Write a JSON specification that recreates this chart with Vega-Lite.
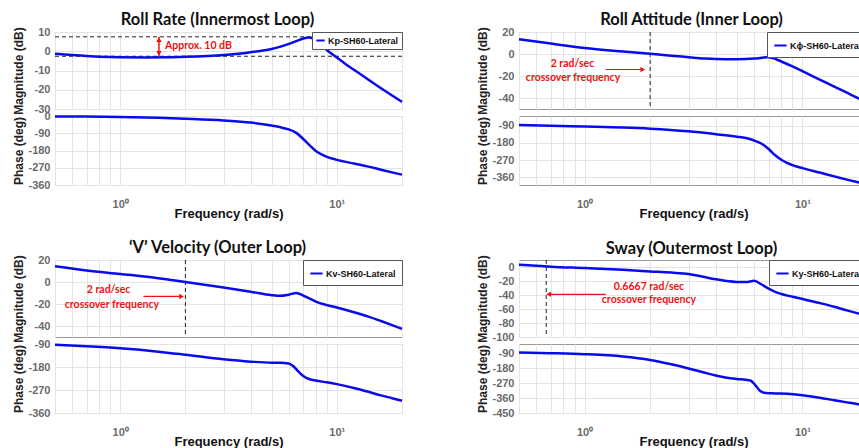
{
  "$schema": "https://vega.github.io/schema/vega-lite/v6.json",
  "background": "white",
  "padding": {"left": 11, "top": 11, "right": 0, "bottom": 0},
  "config": {
    "view": {"stroke": "#9a9a9a", "strokeWidth": 1},
    "axis": {"labelFont": "Liberation Sans", "labelFontWeight": "bold", "labelColor": "#6a6a6a", "labelFontSize": 11, "titleFont": "Liberation Sans", "titleFontWeight": "bold", "titleColor": "#222", "titleFontSize": 12, "gridColor": "#e4e4e4", "domain": false, "ticks": false, "labelPadding": 5, "labelOverlap": false},
    "title": {"font": "Lato", "fontSize": 16.5, "fontWeight": "bold", "color": "#111", "offset": -2.5},
    "legend": {"orient": "top-right", "offset": 0, "padding": 6, "strokeColor": "#555", "fillColor": "white", "symbolType": "stroke", "symbolSize": 150, "symbolStrokeWidth": 2, "labelFont": "Liberation Sans", "labelFontSize": 9, "labelFontWeight": "bold", "labelColor": "#111", "labelOffset": 2, "title": null},
    "text": {"font": "Lato", "fontSize": 10.5, "fontWeight": "bold", "color": "#ee1111", "baseline": "middle"}
  },
  "datasets": {
    "p1mag": [{"f":0.5,"db":-1.3},{"f":0.6,"db":-2.0},{"f":0.7,"db":-2.5},{"f":0.8,"db":-2.8},{"f":1.0,"db":-3.1},{"f":1.3,"db":-3.2},{"f":1.7,"db":-3.1},{"f":2.0,"db":-2.9},{"f":2.5,"db":-2.5},{"f":3.0,"db":-2.0},{"f":3.5,"db":-1.3},{"f":4.0,"db":-0.5},{"f":4.5,"db":0.3},{"f":5.0,"db":1.2},{"f":5.5,"db":2.4},{"f":6.0,"db":3.8},{"f":6.5,"db":5.3},{"f":7.0,"db":6.6},{"f":7.4,"db":7.2},{"f":7.8,"db":6.6},{"f":8.2,"db":4.8},{"f":8.6,"db":2.6},{"f":9.0,"db":0.6},{"f":9.5,"db":-1.4},{"f":10,"db":-3.3},{"f":11,"db":-6.7},{"f":12,"db":-9.6},{"f":14,"db":-14.8},{"f":16,"db":-19.2},{"f":18,"db":-23},{"f":20,"db":-26.3}],
    "p1ph": [{"f":0.5,"deg":-2},{"f":0.7,"deg":-3},{"f":1.0,"deg":-5},{"f":1.5,"deg":-9},{"f":2.0,"deg":-14},{"f":3.0,"deg":-23},{"f":4.0,"deg":-34},{"f":5.0,"deg":-50},{"f":5.5,"deg":-59},{"f":6.0,"deg":-70},{"f":6.5,"deg":-88},{"f":7.0,"deg":-120},{"f":7.5,"deg":-153},{"f":8.0,"deg":-182},{"f":8.5,"deg":-200},{"f":9.0,"deg":-213},{"f":9.5,"deg":-222},{"f":10,"deg":-229},{"f":12,"deg":-248},{"f":14,"deg":-264},{"f":16,"deg":-280},{"f":18,"deg":-294},{"f":20,"deg":-306}],
    "p2mag": [{"f":0.5,"db":13.5},{"f":0.7,"db":9.5},{"f":1.0,"db":5.5},{"f":1.5,"db":2.3},{"f":2.0,"db":0.2},{"f":2.5,"db":-1.5},{"f":3.0,"db":-3},{"f":3.5,"db":-4},{"f":4.0,"db":-4.6},{"f":5.0,"db":-4.8},{"f":6.0,"db":-4.2},{"f":6.5,"db":-3.5},{"f":6.9,"db":-2.9},{"f":7.3,"db":-3.6},{"f":7.6,"db":-5},{"f":8.0,"db":-6.8},{"f":9.0,"db":-11.3},{"f":10,"db":-15.6},{"f":12,"db":-23.2},{"f":14,"db":-29.6},{"f":16,"db":-35.2},{"f":18,"db":-40.2},{"f":20,"db":-44.6}],
    "p2ph": [{"f":0.5,"deg":-87},{"f":0.7,"deg":-91},{"f":1.0,"deg":-95},{"f":1.5,"deg":-100},{"f":2.0,"deg":-106},{"f":3.0,"deg":-120},{"f":4.0,"deg":-135},{"f":5.0,"deg":-148},{"f":5.5,"deg":-155},{"f":6.0,"deg":-168},{"f":6.5,"deg":-185},{"f":7.0,"deg":-212},{"f":7.5,"deg":-245},{"f":8.0,"deg":-268},{"f":8.5,"deg":-284},{"f":9.0,"deg":-296},{"f":10,"deg":-312},{"f":12,"deg":-335},{"f":14,"deg":-355},{"f":16,"deg":-372},{"f":18,"deg":-386},{"f":20,"deg":-398}],
    "p3mag": [{"f":0.5,"db":14.3},{"f":0.7,"db":10.5},{"f":1.0,"db":7.3},{"f":1.5,"db":3.5},{"f":2.0,"db":0},{"f":3.0,"db":-5},{"f":4.0,"db":-8.8},{"f":5.0,"db":-12},{"f":5.5,"db":-12.6},{"f":6.0,"db":-11.5},{"f":6.5,"db":-10},{"f":7.0,"db":-12.3},{"f":7.5,"db":-15.2},{"f":8.0,"db":-17.8},{"f":9.0,"db":-21},{"f":10,"db":-23.2},{"f":12,"db":-27.5},{"f":14,"db":-31.5},{"f":16,"db":-35.5},{"f":18,"db":-39.2},{"f":20,"db":-42.6}],
    "p3ph": [{"f":0.5,"deg":-93},{"f":0.7,"deg":-99},{"f":1.0,"deg":-107},{"f":1.5,"deg":-120},{"f":2.0,"deg":-132},{"f":3.0,"deg":-150},{"f":4.0,"deg":-159},{"f":5.0,"deg":-163},{"f":5.5,"deg":-163},{"f":6.0,"deg":-166},{"f":6.3,"deg":-177},{"f":6.6,"deg":-195},{"f":7.0,"deg":-215},{"f":7.5,"deg":-228},{"f":8.0,"deg":-233},{"f":9.0,"deg":-240},{"f":10,"deg":-247},{"f":12,"deg":-262},{"f":14,"deg":-277},{"f":16,"deg":-291},{"f":18,"deg":-302},{"f":20,"deg":-312}],
    "p4mag": [{"f":0.5,"db":3.2},{"f":0.6,"db":1.8},{"f":0.7,"db":0.5},{"f":1.0,"db":-1.5},{"f":1.5,"db":-4},{"f":2.0,"db":-6.3},{"f":2.5,"db":-8},{"f":3.0,"db":-10},{"f":3.5,"db":-14},{"f":4.0,"db":-17.5},{"f":4.5,"db":-20},{"f":5.0,"db":-21.3},{"f":5.5,"db":-21.5},{"f":6.0,"db":-19.8},{"f":6.5,"db":-25},{"f":7.0,"db":-31},{"f":7.5,"db":-35.5},{"f":8.0,"db":-38.5},{"f":9.0,"db":-42.5},{"f":10,"db":-45.7},{"f":12,"db":-51.5},{"f":14,"db":-56.8},{"f":16,"db":-62},{"f":18,"db":-66.3},{"f":20,"db":-70}],
    "p4ph": [{"f":0.5,"deg":-86},{"f":0.7,"deg":-90},{"f":1.0,"deg":-96},{"f":1.5,"deg":-110},{"f":2.0,"deg":-131},{"f":2.5,"deg":-157},{"f":3.0,"deg":-182},{"f":3.5,"deg":-205},{"f":4.0,"deg":-225},{"f":4.5,"deg":-238},{"f":5.0,"deg":-245},{"f":5.5,"deg":-250},{"f":5.8,"deg":-256},{"f":6.1,"deg":-285},{"f":6.4,"deg":-318},{"f":6.8,"deg":-330},{"f":7.5,"deg":-332},{"f":8.5,"deg":-334},{"f":10,"deg":-343},{"f":12,"deg":-358},{"f":14,"deg":-373},{"f":16,"deg":-386},{"f":18,"deg":-397},{"f":20,"deg":-405}]
  },
  "spacing": 18,
  "resolve": {"scale": {"color": "independent", "x": "independent", "y": "independent"}, "legend": {"color": "independent"}},
  "vconcat": [
    {
      "hconcat": [
        {
          "vconcat": [
            {
              "width": 347, "height": 77,
              "title": {"text": "Roll Rate (Innermost Loop)", "dx": -11},
              "layer": [
                {"data": {"values": [{"db": 7.5}, {"db": -2.6}]}, "mark": {"type": "rule", "color": "#222", "strokeDash": [4, 3], "strokeWidth": 1},
                 "encoding": {"y": {"field": "db", "type": "quantitative", "scale": {"domain": [-30, 10], "nice": false}, "axis": {"values": [10, 0, -10, -20, -30], "labelExpr": "datum.value + ''", "title": "Magnitude (dB)", "titleX": -37, "titleBaseline": "middle"}}}},
                {"data": {"name": "p1mag"}, "mark": {"type": "line", "strokeWidth": 2.5, "interpolate": "monotone"},
                 "encoding": {
                   "x": {"field": "f", "type": "quantitative", "scale": {"type": "log", "domain": [0.5, 20], "nice": false}, "axis": {"values": [0.5,0.6,0.7,0.8,0.9,1,2,3,4,5,6,7,8,9,10,20], "labels": false, "title": null}},
                   "y": {"field": "db", "type": "quantitative", "scale": {"domain": [-30, 10], "nice": false}, "axis": {"values": [10, 0, -10, -20, -30], "labelExpr": "datum.value + ''", "title": "Magnitude (dB)", "titleX": -37, "titleBaseline": "middle"}},
                   "color": {"datum": "Kp-SH60-Lateral", "type": "nominal", "scale": {"range": ["#0a0aee"]}, "legend": {"orient": "top-right", "padding": 3, "symbolSize": 70}}
                 }},
                {"data": {"values": [{"f": 1.51, "db": 7.5, "db2": -2.6}]}, "mark": {"type": "rule", "color": "#ee1111", "strokeWidth": 1.5},
                 "encoding": {"x": {"field": "f", "type": "quantitative", "scale": {"type": "log", "domain": [0.5, 20], "nice": false}, "axis": {"values": [0.5,0.6,0.7,0.8,0.9,1,2,3,4,5,6,7,8,9,10,20], "labels": false, "title": null}},
                   "y": {"field": "db", "type": "quantitative", "scale": {"domain": [-30, 10], "nice": false}, "axis": {"values": [10, 0, -10, -20, -30], "labelExpr": "datum.value + ''", "title": "Magnitude (dB)", "titleX": -37, "titleBaseline": "middle"}}, "y2": {"field": "db2"}}},
                {"data": {"values": [{"f": 1.51, "db": 6.0, "s": "up"}, {"f": 1.51, "db": -1.1, "s": "down"}]}, "mark": {"type": "point", "filled": true, "color": "#ee1111", "size": 30, "opacity": 1},
                 "encoding": {"x": {"field": "f", "type": "quantitative", "scale": {"type": "log", "domain": [0.5, 20], "nice": false}, "axis": {"values": [0.5,0.6,0.7,0.8,0.9,1,2,3,4,5,6,7,8,9,10,20], "labels": false, "title": null}},
                   "y": {"field": "db", "type": "quantitative", "scale": {"domain": [-30, 10], "nice": false}, "axis": {"values": [10, 0, -10, -20, -30], "labelExpr": "datum.value + ''", "title": "Magnitude (dB)", "titleX": -37, "titleBaseline": "middle"}},
                   "shape": {"field": "s", "type": "nominal", "scale": {"domain": ["up", "down"], "range": ["triangle-up", "triangle-down"]}, "legend": null}}},
                {"data": {"values": [{"f": 1.61, "db": 2.8, "label": "Approx. 10 dB"}]}, "mark": {"type": "text", "align": "left"},
                 "encoding": {"x": {"field": "f", "type": "quantitative", "scale": {"type": "log", "domain": [0.5, 20], "nice": false}, "axis": {"values": [0.5,0.6,0.7,0.8,0.9,1,2,3,4,5,6,7,8,9,10,20], "labels": false, "title": null}},
                   "y": {"field": "db", "type": "quantitative", "scale": {"domain": [-30, 10], "nice": false}, "axis": {"values": [10, 0, -10, -20, -30], "labelExpr": "datum.value + ''", "title": "Magnitude (dB)", "titleX": -37, "titleBaseline": "middle"}}, "text": {"field": "label"}}}
              ]
            },
            {
              "width": 347, "height": 69,
              "data": {"name": "p1ph"},
              "mark": {"type": "line", "strokeWidth": 2.5, "interpolate": "monotone", "color": "#0a0aee"},
              "encoding": {
                "x": {"field": "f", "type": "quantitative", "scale": {"type": "log", "domain": [0.5, 20], "nice": false}, "axis": {"values": [0.5,0.6,0.7,0.8,0.9,1,2,3,4,5,6,7,8,9,10,20], "labelExpr": "datum.value == 1 ? '10⁰' : datum.value == 10 ? '10¹' : ''", "labelFlush": false, "labelPadding": 13, "title": "Frequency  (rad/s)", "titleFontSize": 13, "titleColor": "#111", "titlePadding": -2}},
                "y": {"field": "deg", "type": "quantitative", "scale": {"domain": [-360, 0], "nice": false}, "axis": {"values": [0, -90, -180, -270, -360], "labelExpr": "datum.value + ''", "title": "Phase (deg)", "titleX": -37, "titleBaseline": "middle"}}
              }
            }
          ],
          "spacing": 7, "bounds": "flush",
          "resolve": {"scale": {"color": "independent", "x": "independent", "y": "independent"}, "legend": {"color": "independent"}}
        },
        {
          "vconcat": [
            {
              "width": 349, "height": 77,
              "title": {"text": "Roll Attitude (Inner Loop)", "dx": -2},
              "layer": [
                {"data": {"values": [{"f": 2}]}, "mark": {"type": "rule", "color": "#222", "strokeDash": [4, 3], "strokeWidth": 1},
                 "encoding": {"x": {"field": "f", "type": "quantitative", "scale": {"type": "log", "domain": [0.5, 20], "nice": false}, "axis": {"values": [0.5,0.6,0.7,0.8,0.9,1,2,3,4,5,6,7,8,9,10,20], "labels": false, "title": null}}}},
                {"data": {"name": "p2mag"}, "mark": {"type": "line", "strokeWidth": 2.5, "interpolate": "monotone"},
                 "encoding": {
                   "x": {"field": "f", "type": "quantitative", "scale": {"type": "log", "domain": [0.5, 20], "nice": false}, "axis": {"values": [0.5,0.6,0.7,0.8,0.9,1,2,3,4,5,6,7,8,9,10,20], "labels": false, "title": null}},
                   "y": {"field": "db", "type": "quantitative", "scale": {"domain": [-50, 20], "nice": false}, "axis": {"values": [20, 0, -20, -40], "labelExpr": "datum.value + ''", "title": "Magnitude (dB)", "titleX": -37, "titleBaseline": "middle"}},
                   "color": {"datum": "Kϕ-SH60-Lateral", "type": "nominal", "scale": {"range": ["#0a0aee"]}, "legend": {"orient": "top-right"}}
                 }},
                {"data": {"values": [{"f": 1.25, "f2": 1.86, "db": -14.1}]}, "mark": {"type": "rule", "color": "#ee1111", "strokeWidth": 1.2},
                 "encoding": {"x": {"field": "f", "type": "quantitative", "scale": {"type": "log", "domain": [0.5, 20], "nice": false}, "axis": {"values": [0.5,0.6,0.7,0.8,0.9,1,2,3,4,5,6,7,8,9,10,20], "labels": false, "title": null}}, "x2": {"field": "f2"},
                   "y": {"field": "db", "type": "quantitative", "scale": {"domain": [-50, 20], "nice": false}, "axis": {"values": [20, 0, -20, -40], "labelExpr": "datum.value + ''", "title": "Magnitude (dB)", "titleX": -37, "titleBaseline": "middle"}}}},
                {"data": {"values": [{"f": 1.85, "db": -14.1}]}, "mark": {"type": "point", "shape": "triangle-right", "filled": true, "color": "#ee1111", "size": 30, "opacity": 1},
                 "encoding": {"x": {"field": "f", "type": "quantitative", "scale": {"type": "log", "domain": [0.5, 20], "nice": false}, "axis": {"values": [0.5,0.6,0.7,0.8,0.9,1,2,3,4,5,6,7,8,9,10,20], "labels": false, "title": null}},
                   "y": {"field": "db", "type": "quantitative", "scale": {"domain": [-50, 20], "nice": false}, "axis": {"values": [20, 0, -20, -40], "labelExpr": "datum.value + ''", "title": "Magnitude (dB)", "titleX": -37, "titleBaseline": "middle"}}}},
                {"data": {"values": [{"f": 0.88, "db": -8.7, "label": "2 rad/sec"}, {"f": 0.885, "db": -21.6, "label": "crossover frequency"}]}, "mark": {"type": "text", "align": "center"},
                 "encoding": {"x": {"field": "f", "type": "quantitative", "scale": {"type": "log", "domain": [0.5, 20], "nice": false}, "axis": {"values": [0.5,0.6,0.7,0.8,0.9,1,2,3,4,5,6,7,8,9,10,20], "labels": false, "title": null}},
                   "y": {"field": "db", "type": "quantitative", "scale": {"domain": [-50, 20], "nice": false}, "axis": {"values": [20, 0, -20, -40], "labelExpr": "datum.value + ''", "title": "Magnitude (dB)", "titleX": -37, "titleBaseline": "middle"}}, "text": {"field": "label"}}}
              ]
            },
            {
              "width": 349, "height": 69,
              "data": {"name": "p2ph"},
              "mark": {"type": "line", "strokeWidth": 2.5, "interpolate": "monotone", "color": "#0a0aee"},
              "encoding": {
                "x": {"field": "f", "type": "quantitative", "scale": {"type": "log", "domain": [0.5, 20], "nice": false}, "axis": {"values": [0.5,0.6,0.7,0.8,0.9,1,2,3,4,5,6,7,8,9,10,20], "labelExpr": "datum.value == 1 ? '10⁰' : datum.value == 10 ? '10¹' : ''", "labelFlush": false, "labelPadding": 13, "title": "Frequency  (rad/s)", "titleFontSize": 13, "titleColor": "#111", "titlePadding": -2}},
                "y": {"field": "deg", "type": "quantitative", "scale": {"domain": [-400, -40], "nice": false}, "axis": {"values": [-90, -180, -270, -360], "labelExpr": "datum.value + ''", "title": "Phase (deg)", "titleX": -37, "titleBaseline": "middle"}}
              }
            }
          ],
          "spacing": 7, "bounds": "flush",
          "resolve": {"scale": {"color": "independent", "x": "independent", "y": "independent"}, "legend": {"color": "independent"}}
        }
      ],
      "spacing": 67,
      "resolve": {"scale": {"color": "independent", "x": "independent", "y": "independent"}, "legend": {"color": "independent"}}
    },
    {
      "hconcat": [
        {
          "vconcat": [
            {
              "width": 347, "height": 77,
              "title": {"text": "‘V’ Velocity (Outer Loop)", "dx": -11},
              "layer": [
                {"data": {"values": [{"f": 2}]}, "mark": {"type": "rule", "color": "#222", "strokeDash": [4, 3], "strokeWidth": 1},
                 "encoding": {"x": {"field": "f", "type": "quantitative", "scale": {"type": "log", "domain": [0.5, 20], "nice": false}, "axis": {"values": [0.5,0.6,0.7,0.8,0.9,1,2,3,4,5,6,7,8,9,10,20], "labels": false, "title": null}}}},
                {"data": {"name": "p3mag"}, "mark": {"type": "line", "strokeWidth": 2.5, "interpolate": "monotone"},
                 "encoding": {
                   "x": {"field": "f", "type": "quantitative", "scale": {"type": "log", "domain": [0.5, 20], "nice": false}, "axis": {"values": [0.5,0.6,0.7,0.8,0.9,1,2,3,4,5,6,7,8,9,10,20], "labels": false, "title": null}},
                   "y": {"field": "db", "type": "quantitative", "scale": {"domain": [-50, 20], "nice": false}, "axis": {"values": [20, 0, -20, -40], "labelExpr": "datum.value + ''", "title": "Magnitude (dB)", "titleX": -37, "titleBaseline": "middle"}},
                   "color": {"datum": "Kv-SH60-Lateral", "type": "nominal", "scale": {"range": ["#0a0aee"]}, "legend": {"orient": "top-right"}}
                 }},
                {"data": {"values": [{"f": 1.28, "f2": 1.93, "db": -13.1}]}, "mark": {"type": "rule", "color": "#ee1111", "strokeWidth": 1.2},
                 "encoding": {"x": {"field": "f", "type": "quantitative", "scale": {"type": "log", "domain": [0.5, 20], "nice": false}, "axis": {"values": [0.5,0.6,0.7,0.8,0.9,1,2,3,4,5,6,7,8,9,10,20], "labels": false, "title": null}}, "x2": {"field": "f2"},
                   "y": {"field": "db", "type": "quantitative", "scale": {"domain": [-50, 20], "nice": false}, "axis": {"values": [20, 0, -20, -40], "labelExpr": "datum.value + ''", "title": "Magnitude (dB)", "titleX": -37, "titleBaseline": "middle"}}}},
                {"data": {"values": [{"f": 1.92, "db": -13.1}]}, "mark": {"type": "point", "shape": "triangle-right", "filled": true, "color": "#ee1111", "size": 30, "opacity": 1},
                 "encoding": {"x": {"field": "f", "type": "quantitative", "scale": {"type": "log", "domain": [0.5, 20], "nice": false}, "axis": {"values": [0.5,0.6,0.7,0.8,0.9,1,2,3,4,5,6,7,8,9,10,20], "labels": false, "title": null}},
                   "y": {"field": "db", "type": "quantitative", "scale": {"domain": [-50, 20], "nice": false}, "axis": {"values": [20, 0, -20, -40], "labelExpr": "datum.value + ''", "title": "Magnitude (dB)", "titleX": -37, "titleBaseline": "middle"}}}},
                {"data": {"values": [{"f": 0.884, "db": -7.7, "label": "2 rad/sec"}, {"f": 0.916, "db": -20.7, "label": "crossover frequency"}]}, "mark": {"type": "text", "align": "center"},
                 "encoding": {"x": {"field": "f", "type": "quantitative", "scale": {"type": "log", "domain": [0.5, 20], "nice": false}, "axis": {"values": [0.5,0.6,0.7,0.8,0.9,1,2,3,4,5,6,7,8,9,10,20], "labels": false, "title": null}},
                   "y": {"field": "db", "type": "quantitative", "scale": {"domain": [-50, 20], "nice": false}, "axis": {"values": [20, 0, -20, -40], "labelExpr": "datum.value + ''", "title": "Magnitude (dB)", "titleX": -37, "titleBaseline": "middle"}}, "text": {"field": "label"}}}
              ]
            },
            {
              "width": 347, "height": 69,
              "data": {"name": "p3ph"},
              "mark": {"type": "line", "strokeWidth": 2.5, "interpolate": "monotone", "color": "#0a0aee"},
              "encoding": {
                "x": {"field": "f", "type": "quantitative", "scale": {"type": "log", "domain": [0.5, 20], "nice": false}, "axis": {"values": [0.5,0.6,0.7,0.8,0.9,1,2,3,4,5,6,7,8,9,10,20], "labelExpr": "datum.value == 1 ? '10⁰' : datum.value == 10 ? '10¹' : ''", "labelFlush": false, "labelPadding": 13, "title": "Frequency  (rad/s)", "titleFontSize": 13, "titleColor": "#111", "titlePadding": -2}},
                "y": {"field": "deg", "type": "quantitative", "scale": {"domain": [-360, -90], "nice": false}, "axis": {"values": [-90, -180, -270, -360], "labelExpr": "datum.value + ''", "title": "Phase (deg)", "titleX": -37, "titleBaseline": "middle"}}
              }
            }
          ],
          "spacing": 7, "bounds": "flush",
          "resolve": {"scale": {"color": "independent", "x": "independent", "y": "independent"}, "legend": {"color": "independent"}}
        },
        {
          "vconcat": [
            {
              "width": 349, "height": 77,
              "title": {"text": "Sway (Outermost Loop)", "dx": -2},
              "layer": [
                {"data": {"values": [{"f": 0.6667}]}, "mark": {"type": "rule", "color": "#222", "strokeDash": [4, 3], "strokeWidth": 1},
                 "encoding": {"x": {"field": "f", "type": "quantitative", "scale": {"type": "log", "domain": [0.5, 20], "nice": false}, "axis": {"values": [0.5,0.6,0.7,0.8,0.9,1,2,3,4,5,6,7,8,9,10,20], "labels": false, "title": null}}}},
                {"data": {"name": "p4mag"}, "mark": {"type": "line", "strokeWidth": 2.5, "interpolate": "monotone"},
                 "encoding": {
                   "x": {"field": "f", "type": "quantitative", "scale": {"type": "log", "domain": [0.5, 20], "nice": false}, "axis": {"values": [0.5,0.6,0.7,0.8,0.9,1,2,3,4,5,6,7,8,9,10,20], "labels": false, "title": null}},
                   "y": {"field": "db", "type": "quantitative", "scale": {"domain": [-100, 10], "nice": false}, "axis": {"values": [0, -20, -40, -60, -80, -100], "labelExpr": "datum.value + ''", "title": "Magnitude (dB)", "titleX": -37, "titleBaseline": "middle"}},
                   "color": {"datum": "Ky-SH60-Lateral", "type": "nominal", "scale": {"range": ["#0a0aee"]}, "legend": {"orient": "top-right"}}
                 }},
                {"data": {"values": [{"f": 0.69, "f2": 1.25, "db": -39}]}, "mark": {"type": "rule", "color": "#ee1111", "strokeWidth": 1.2},
                 "encoding": {"x": {"field": "f", "type": "quantitative", "scale": {"type": "log", "domain": [0.5, 20], "nice": false}, "axis": {"values": [0.5,0.6,0.7,0.8,0.9,1,2,3,4,5,6,7,8,9,10,20], "labels": false, "title": null}}, "x2": {"field": "f2"},
                   "y": {"field": "db", "type": "quantitative", "scale": {"domain": [-100, 10], "nice": false}, "axis": {"values": [0, -20, -40, -60, -80, -100], "labelExpr": "datum.value + ''", "title": "Magnitude (dB)", "titleX": -37, "titleBaseline": "middle"}}}},
                {"data": {"values": [{"f": 0.685, "db": -39}]}, "mark": {"type": "point", "shape": "triangle-left", "filled": true, "color": "#ee1111", "size": 30, "opacity": 1},
                 "encoding": {"x": {"field": "f", "type": "quantitative", "scale": {"type": "log", "domain": [0.5, 20], "nice": false}, "axis": {"values": [0.5,0.6,0.7,0.8,0.9,1,2,3,4,5,6,7,8,9,10,20], "labels": false, "title": null}},
                   "y": {"field": "db", "type": "quantitative", "scale": {"domain": [-100, 10], "nice": false}, "axis": {"values": [0, -20, -40, -60, -80, -100], "labelExpr": "datum.value + ''", "title": "Magnitude (dB)", "titleX": -37, "titleBaseline": "middle"}}}},
                {"data": {"values": [{"f": 1.975, "db": -28, "label": "0.6667 rad/sec"}, {"f": 1.975, "db": -47, "label": "crossover frequency"}]}, "mark": {"type": "text", "align": "center"},
                 "encoding": {"x": {"field": "f", "type": "quantitative", "scale": {"type": "log", "domain": [0.5, 20], "nice": false}, "axis": {"values": [0.5,0.6,0.7,0.8,0.9,1,2,3,4,5,6,7,8,9,10,20], "labels": false, "title": null}},
                   "y": {"field": "db", "type": "quantitative", "scale": {"domain": [-100, 10], "nice": false}, "axis": {"values": [0, -20, -40, -60, -80, -100], "labelExpr": "datum.value + ''", "title": "Magnitude (dB)", "titleX": -37, "titleBaseline": "middle"}}, "text": {"field": "label"}}}
              ]
            },
            {
              "width": 349, "height": 69,
              "data": {"name": "p4ph"},
              "mark": {"type": "line", "strokeWidth": 2.5, "interpolate": "monotone", "color": "#0a0aee"},
              "encoding": {
                "x": {"field": "f", "type": "quantitative", "scale": {"type": "log", "domain": [0.5, 20], "nice": false}, "axis": {"values": [0.5,0.6,0.7,0.8,0.9,1,2,3,4,5,6,7,8,9,10,20], "labelExpr": "datum.value == 1 ? '10⁰' : datum.value == 10 ? '10¹' : ''", "labelFlush": false, "labelPadding": 13, "title": "Frequency  (rad/s)", "titleFontSize": 13, "titleColor": "#111", "titlePadding": -2}},
                "y": {"field": "deg", "type": "quantitative", "scale": {"domain": [-450, -35], "nice": false}, "axis": {"values": [-90, -180, -270, -360, -450], "labelExpr": "datum.value + ''", "title": "Phase (deg)", "titleX": -37, "titleBaseline": "middle"}}
              }
            }
          ],
          "spacing": 7, "bounds": "flush",
          "resolve": {"scale": {"color": "independent", "x": "independent", "y": "independent"}, "legend": {"color": "independent"}}
        }
      ],
      "spacing": 67,
      "resolve": {"scale": {"color": "independent", "x": "independent", "y": "independent"}, "legend": {"color": "independent"}}
    }
  ]
}
